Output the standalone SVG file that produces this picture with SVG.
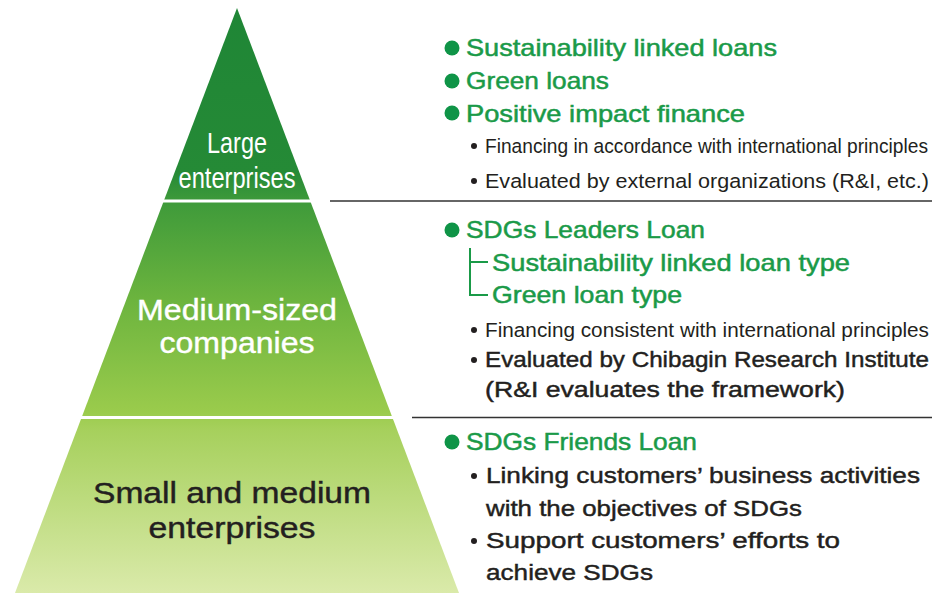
<svg xmlns="http://www.w3.org/2000/svg" width="932" height="593" viewBox="0 0 932 593">
<defs>
<linearGradient id="pg" gradientUnits="userSpaceOnUse" x1="0" y1="8" x2="0" y2="593">
<stop offset="0" stop-color="#1f8636"/>
<stop offset="0.28" stop-color="#258a36"/>
<stop offset="0.33" stop-color="#3e9a3a"/>
<stop offset="0.5" stop-color="#6cb43e"/>
<stop offset="0.69" stop-color="#9acb4c"/>
<stop offset="0.72" stop-color="#a6d05c"/>
<stop offset="1" stop-color="#daeaaa"/>
</linearGradient>
</defs>
<style>
.w{fill:#ffffff;font-family:"Liberation Sans",Arial,sans-serif;text-anchor:middle}
.d{fill:#231f20;font-family:"Liberation Sans",Arial,sans-serif}
.m{stroke:#231f20;stroke-width:0.45}
.wm{stroke:#ffffff;stroke-width:0.4}
.g{fill:#1a9a48;font-family:"Liberation Sans",Arial,sans-serif;font-size:24px;stroke:#1a9a48;stroke-width:0.5}
.b{fill:#0f9447}
.s{fill:#231f20}
.sep{stroke:#333333;stroke-width:1.5;fill:none}
.tree{stroke:#1a9a48;stroke-width:2;fill:none}
</style>
<rect width="932" height="593" fill="#ffffff"/>
<g id="pyramid">
<polygon points="237,8 459,593 15,593" fill="url(#pg)"/>
<line x1="0" y1="201" x2="460" y2="201" stroke="#ffffff" stroke-width="3"/>
<line x1="0" y1="417.5" x2="460" y2="417.5" stroke="#ffffff" stroke-width="3"/>
</g>
<g id="node-large">
<text class="w" x="237" y="153" font-size="29" textLength="60" lengthAdjust="spacingAndGlyphs">Large</text>
<text class="w" x="237" y="188" font-size="29" textLength="117" lengthAdjust="spacingAndGlyphs">enterprises</text>
</g>
<g id="node-medium">
<text class="w wm" x="237" y="320" font-size="30" textLength="200" lengthAdjust="spacingAndGlyphs">Medium-sized</text>
<text class="w wm" x="237" y="353" font-size="30" textLength="155" lengthAdjust="spacingAndGlyphs">companies</text>
</g>
<g id="node-small">
<text class="d m" x="232" y="503" font-size="30" text-anchor="middle" textLength="278" lengthAdjust="spacingAndGlyphs">Small and medium</text>
<text class="d m" x="232" y="538" font-size="30" text-anchor="middle" textLength="167" lengthAdjust="spacingAndGlyphs">enterprises</text>
</g>
<g id="connectors">
<line class="sep" x1="330" y1="201" x2="932" y2="201"/>
<line class="sep" x1="412" y1="417.5" x2="932" y2="417.5"/>
<path class="tree" d="M470,248 V295 H488 M470,262 H488"/>
</g>
<g id="list-large">
<circle class="b" cx="452" cy="48" r="7.5"/>
<text class="g" x="466" y="56" textLength="311" lengthAdjust="spacingAndGlyphs">Sustainability linked loans</text>
<circle class="b" cx="452" cy="81" r="7.5"/>
<text class="g" x="466" y="89" textLength="143" lengthAdjust="spacingAndGlyphs">Green loans</text>
<circle class="b" cx="452" cy="113" r="7.5"/>
<text class="g" x="466" y="122" textLength="279" lengthAdjust="spacingAndGlyphs">Positive impact finance</text>
<circle class="s" cx="474" cy="146" r="3"/>
<text class="d" x="485" y="153" font-size="20.5" textLength="443" lengthAdjust="spacingAndGlyphs">Financing in accordance with international principles</text>
<circle class="s" cx="474" cy="181" r="3"/>
<text class="d" x="485" y="188" font-size="20.5" textLength="444" lengthAdjust="spacingAndGlyphs">Evaluated by external organizations (R&amp;I, etc.)</text>
</g>
<g id="list-medium">
<circle class="b" cx="452" cy="230" r="7.5"/>
<text class="g" x="466" y="238" textLength="239" lengthAdjust="spacingAndGlyphs">SDGs Leaders Loan</text>
<text class="g" x="492" y="271" textLength="358" lengthAdjust="spacingAndGlyphs">Sustainability linked loan type</text>
<text class="g" x="492" y="303" textLength="190" lengthAdjust="spacingAndGlyphs">Green loan type</text>
<circle class="s" cx="474" cy="330" r="3"/>
<text class="d" x="485" y="337" font-size="20.5" textLength="444" lengthAdjust="spacingAndGlyphs">Financing consistent with international principles</text>
<circle class="s" cx="474" cy="360" r="3"/>
<text class="d m" x="485" y="367" font-size="22" textLength="444" lengthAdjust="spacingAndGlyphs">Evaluated by Chibagin Research Institute</text>
<text class="d m" x="485" y="397" font-size="22" textLength="360" lengthAdjust="spacingAndGlyphs">(R&amp;I evaluates the framework)</text>
</g>
<g id="list-small">
<circle class="b" cx="452" cy="442" r="7.5"/>
<text class="g" x="466" y="450" textLength="231" lengthAdjust="spacingAndGlyphs">SDGs Friends Loan</text>
<circle class="s" cx="474" cy="476" r="3"/>
<text class="d m" x="486" y="483" font-size="22.5" textLength="434" lengthAdjust="spacingAndGlyphs">Linking customers’ business activities</text>
<text class="d m" x="486" y="516" font-size="22.5" textLength="316" lengthAdjust="spacingAndGlyphs">with the objectives of SDGs</text>
<circle class="s" cx="474" cy="541" r="3"/>
<text class="d m" x="486" y="548" font-size="22.5" textLength="354" lengthAdjust="spacingAndGlyphs">Support customers’ efforts to</text>
<text class="d m" x="486" y="580" font-size="22.5" textLength="167" lengthAdjust="spacingAndGlyphs">achieve SDGs</text>
</g>
</svg>
